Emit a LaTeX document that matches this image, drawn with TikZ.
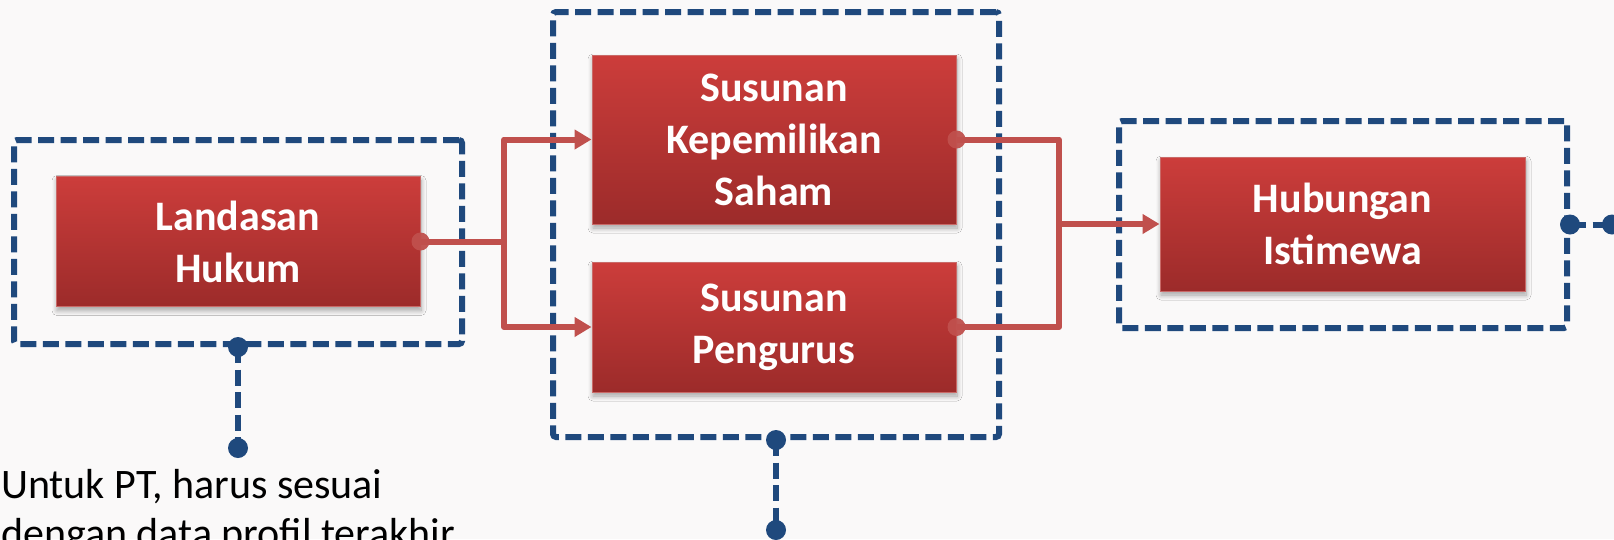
\documentclass[tikz,border=0pt]{standalone}
\usepackage{fontspec}
\setmainfont{Carlito}
\usetikzlibrary{arrows.meta,shadows.blur,calc}
\definecolor{boxtop}{HTML}{CC3D3B}
\definecolor{boxbot}{HTML}{9C2B2A}
\definecolor{lnred}{HTML}{C0504D}
\definecolor{dblue}{HTML}{1F497D}
\definecolor{bgcol}{HTML}{FAF9F9}
\begin{document}
\begin{tikzpicture}[x=1pt,y=-1pt,
  redbox/.style={draw=lnred!85!white, line width=1pt, top color=boxtop, bottom color=boxbot,
    text=white, font=\fontsize{42}{52}\selectfont\bfseries, align=center, inner sep=0pt,
    blur shadow={shadow xshift=1pt, shadow yshift=-4pt, shadow blur radius=5pt, shadow blur steps=8, shadow opacity=35}},
  grpbox/.style={draw=dblue, line width=6pt, dash pattern=on 16pt off 6.5pt, rounded corners=3pt, inner sep=0pt},
  redline/.style={draw=lnred, line width=6pt, line join=round},
  flow/.style={redline, -{Triangle[length=17pt,width=19pt]}},
  bluedash/.style={draw=dblue, line width=6pt, dash pattern=on 16pt off 6.5pt},
  reddot/.style={fill=lnred, fill opacity=0.95},
  bluedot/.style={fill=dblue},
  notetext/.style={anchor=base west, inner sep=0pt, font=\fontsize{42}{49}\selectfont, text=black}
]
\useasboundingbox (0,0) rectangle (1614,539);
\clip (0,0) rectangle (1614,539);
\fill[bgcol] (0,0) rectangle (1614,539);

% group (dashed) boxes
\node[grpbox, minimum width=448pt, minimum height=204pt] (g1) at (238,242) {};
\node[grpbox, minimum width=446pt, minimum height=425pt] (g2) at (776,224.5) {};
\node[grpbox, minimum width=448pt, minimum height=207pt] (g3) at (1343,224.5) {};

% red boxes
\node[redbox, minimum width=364pt, minimum height=130pt] (land) at (238,241.5) {Landasan\\Hukum};
\node[redbox, minimum width=364pt, minimum height=169pt] (kep) at (774,139.5) {Susunan\\Kepemilikan\\Saham};
\node[redbox, minimum width=364pt, minimum height=130pt] (peng) at (774,327) {Susunan\\Pengurus};
\node[redbox, minimum width=365pt, minimum height=134pt] (hub) at (1342.5,224) {Hubungan\\Istimewa};

% red connectors
\coordinate (j1) at (504,241.5);
\coordinate (j2) at (1059,224);
\draw[redline] (land.east) -- (j1);
\draw[flow] (j1) |- (kep.west);
\draw[flow] (j1) |- (peng.west);
\draw[redline] (kep.east) -| (j2);
\draw[redline] (peng.east) -| (j2);
\draw[flow] (j2) -- (hub.west);
\fill[reddot] (land.east) circle[radius=9pt];
\fill[reddot] (kep.east) circle[radius=9pt];
\fill[reddot] (peng.east) circle[radius=9pt];

% blue callout connectors
\coordinate (c1) at (238,448);
\coordinate (c2) at (776,530);
\coordinate (c3) at (1612,224.5);
\draw[bluedash] (g1.south) -- (c1);
\draw[bluedash] (g2.south) -- (c2);
\draw[bluedash] (g3.east) -- (c3);
\foreach \p in {g1.south,c1,g2.south,c2,g3.east,c3}
  \fill[bluedot] (\p) circle[radius=10pt];

% note text
\node[notetext] (note1) at (1,498) {Untuk PT, harus sesuai};
\node[notetext] (note2) at (1,547) {dengan data profil terakhir};
\end{tikzpicture}
\end{document}
